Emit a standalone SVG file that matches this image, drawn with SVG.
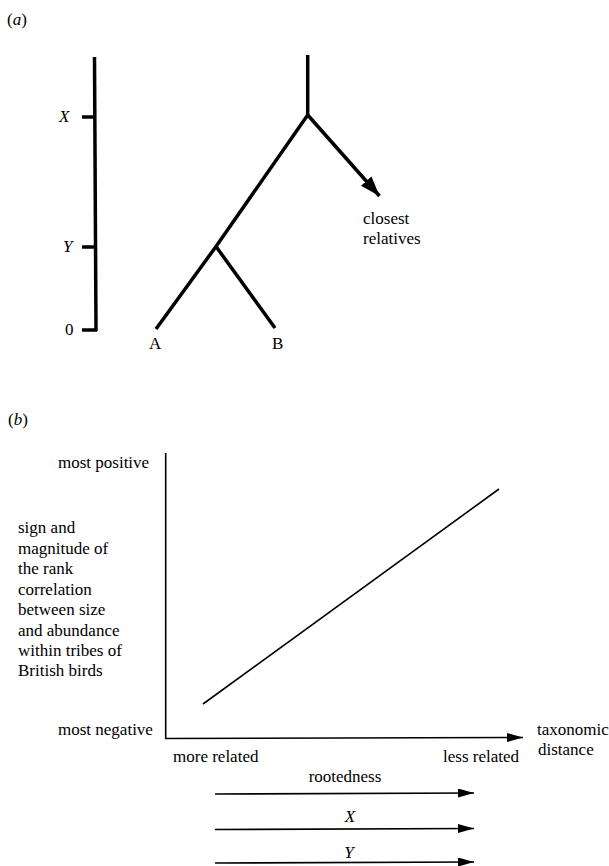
<svg xmlns="http://www.w3.org/2000/svg" width="609" height="866" viewBox="0 0 609 866">
<defs>
<style>
text{font-family:"Liberation Serif","Times New Roman",serif;font-size:17px;fill:#000}
.it{font-style:italic}
.thick{stroke:#000;stroke-width:3.5;fill:none;stroke-linecap:butt}
.thin{stroke:#000;stroke-width:1.6;fill:none}
</style>
<marker id="bigHead" markerUnits="userSpaceOnUse" markerWidth="22" markerHeight="16" refX="20" refY="7" orient="auto">
<path d="M0,0 L20,7 L0,14 Z" fill="#000"/>
</marker>
<marker id="smallHead" markerUnits="userSpaceOnUse" markerWidth="18" markerHeight="10" refX="16" refY="4.5" orient="auto">
<path d="M0,0 L16,4.5 L0,9 Z" fill="#000"/>
</marker>
</defs>
<rect width="609" height="866" fill="#fff"/>

<g id="panel-a-label"><text x="7" y="25">(<tspan class="it">a</tspan>)</text></g>

<g id="time-axis">
<line class="thick" x1="94.5" y1="57" x2="96" y2="331"/>
<line class="thick" x1="82" y1="117" x2="96" y2="117"/>
<line class="thick" x1="82" y1="247" x2="96" y2="247"/>
<line class="thick" x1="82" y1="330" x2="97" y2="330"/>
<text class="it" x="59" y="122">X</text>
<text class="it" x="63" y="252">Y</text>
<text x="65" y="335">0</text>
</g>

<g id="connectors">
<line class="thick" x1="307.7" y1="55" x2="307.7" y2="116"/>
<line class="thick" x1="307.7" y1="115" x2="216" y2="246.5"/>
<line class="thick" x1="216" y1="246.5" x2="156" y2="329"/>
<line class="thick" x1="216" y1="246.5" x2="275" y2="328"/>
<line class="thick" x1="307.7" y1="115" x2="379.5" y2="196" marker-end="url(#bigHead)"/>
</g>

<g id="node-A"><text x="149" y="349">A</text></g>
<g id="node-B"><text x="272" y="349">B</text></g>
<g id="node-closest"><text x="363" y="224">closest</text><text x="363" y="244">relatives</text></g>

<g id="panel-b-label"><text x="8" y="425">(<tspan class="it">b</tspan>)</text></g>

<g id="graph-b">
<line class="thin" x1="165.7" y1="453" x2="165.7" y2="739"/>
<line class="thin" x1="165" y1="738.5" x2="523" y2="737.5" marker-end="url(#smallHead)"/>
<line class="thin" x1="203" y1="704" x2="499" y2="489" stroke-width="2"/>
<text x="58" y="468">most positive</text>
<text x="58" y="735">most negative</text>
<text x="18" y="533">sign and</text>
<text x="18" y="553.5">magnitude of</text>
<text x="18" y="574">the rank</text>
<text x="18" y="594.5">correlation</text>
<text x="18" y="615">between size</text>
<text x="18" y="635.5">and abundance</text>
<text x="18" y="656">within tribes of</text>
<text x="18" y="676">British birds</text>
<text x="173" y="762">more related</text>
<text x="443" y="762">less related</text>
<text x="537" y="735">taxonomic</text>
<text x="538" y="755">distance</text>
</g>

<g id="arrows-b">
<text x="345" y="782" text-anchor="middle">rootedness</text>
<line class="thin" x1="215" y1="794" x2="474" y2="793" marker-end="url(#smallHead)"/>
<text class="it" x="350" y="822" text-anchor="middle">X</text>
<line class="thin" x1="215" y1="829.5" x2="474" y2="828.5" marker-end="url(#smallHead)"/>
<text class="it" x="349" y="858" text-anchor="middle">Y</text>
<line class="thin" x1="215" y1="863" x2="474" y2="862" marker-end="url(#smallHead)"/>
</g>
</svg>
